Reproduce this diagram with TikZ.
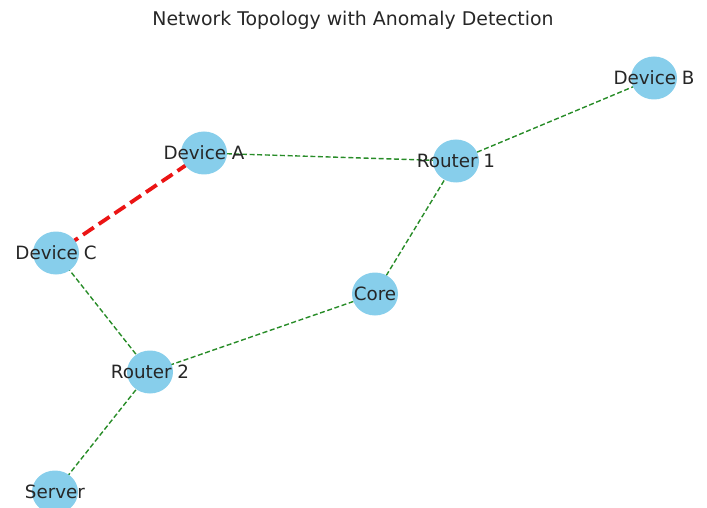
\documentclass[tikz,border=0pt]{standalone}
\usepackage{fontspec}
\setmainfont{DejaVu Sans}
\usetikzlibrary{backgrounds,shapes.geometric}
\definecolor{hostblue}{RGB}{135,206,235}
\definecolor{linkgreen}{RGB}{40,140,40}
\definecolor{alertred}{RGB}{235,20,20}
\tikzset{
  host/.style={inner sep=0pt,font=\fontsize{18.3}{20}\selectfont,text=black!85},
  heading/.style={inner sep=0pt,font=\fontsize{18.9}{21}\selectfont,text=black!85},
  disc/.style={fill=hostblue},
  link/.style={draw=linkgreen,line width=1.4pt,dash pattern=on 5pt off 2.6pt},
  anomaly/.style={draw=alertred,line width=3.8pt,dash pattern=on 13pt off 6pt}
}

\begin{document}
\begin{tikzpicture}[x=1pt,y=-1pt]
  \useasboundingbox (0,0) rectangle (707,508);
  \node[heading] (title) at (353,20) {Network Topology with Anomaly Detection};

  \node[host] (devb) at (654,78) {Device B};
  \node[host] (rt1) at (456,161) {Router 1};
  \node[host] (deva) at (204,153) {Device A};
  \node[host] (devc) at (56,253) {Device C};
  \node[host] (core) at (375,294) {Core};
  \node[host] (rt2) at (150,372) {Router 2};
  \node[host] (srv) at (55,492) {Server};

  \begin{pgfonlayer}{background}
    % links first, discs on top
    \draw[link] (deva.center) -- (rt1.center);
    \draw[link] (rt1.center) -- (devb.center);
    \draw[link] (rt1.center) -- (core.center);
    \draw[link] (core.center) -- (rt2.center);
    \draw[link] (rt2.center) -- (devc.center);
    \draw[link] (rt2.center) -- (srv.center);
    \draw[anomaly] (deva.center) -- (devc.center);
    \foreach \n in {devb,rt1,deva,devc,core,rt2,srv}
      \fill[disc] (\n.center) ellipse[x radius=23,y radius=21.5];
  \end{pgfonlayer}
\end{tikzpicture}
\end{document}
